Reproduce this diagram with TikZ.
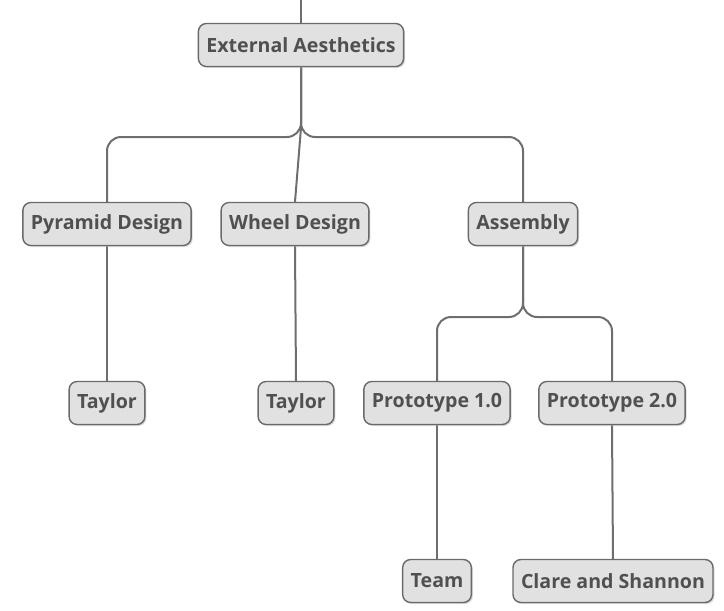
\documentclass[tikz,border=0pt]{standalone}
\usepackage{fontspec}
\setmainfont{Open Sans}
\usetikzlibrary{positioning,shadows,backgrounds}
\definecolor{boxfill}{HTML}{E1E1E1}
\definecolor{boxline}{HTML}{6A6A6A}
\definecolor{boxtext}{HTML}{505050}
\definecolor{linecol}{HTML}{6E6E6E}
\begin{document}
\begin{tikzpicture}[x=1pt,y=-1pt,
  topic/.style={draw=boxline,fill=boxfill,line width=1.4pt,rounded corners=8pt,
    minimum height=43pt,inner xsep=8pt,text=boxtext,
    font=\bfseries\fontsize{19.6}{22}\selectfont,
    drop shadow={shadow xshift=1.5pt,shadow yshift=-1.5pt,fill=black!30}},
  branch/.style={draw=linecol,line width=2pt,rounded corners=14pt}]
  \useasboundingbox (0,0) rectangle (724,611);
  \node[topic] (ea) at (301,45) {External Aesthetics};
  \node[topic] (pd) at (107,224) {Pyramid Design};
  \node[topic] (wd) at (295,224) {Wheel Design};
  \node[topic] (as) at (523,224) {Assembly};
  \node[topic] (ta) at (107,403) {Taylor};
  \node[topic] (tb) at (296,403) {Taylor};
  \node[topic] (pa) at (437,403) {Prototype 1.0};
  \node[topic] (pb) at (612,403) {Prototype 2.0};
  \node[topic] (tm) at (437,581) {Team};
  \node[topic] (cs) at (613,581) {Clare and Shannon};
  \coordinate (top) at (301,0) ;            %upper end of the stem
  \coordinate (eaj) at (301,137) ;          %split under External Aesthetics
  \coordinate (wdj) at (301,128) ;          %bend of the middle branch
  \coordinate (asj) at (523,317) ;          %split under Assembly
  \begin{scope}[on background layer]
  \draw[branch] (top) -- (ea.north) ;               %stem above the root
  \draw[branch] (ea.south) -- (eaj) -| (pd.north) ; %branch to Pyramid Design
  \draw[branch] (ea.south) -- (eaj) -| (as.north) ; %branch to Assembly
  \draw[branch,rounded corners=0pt] (ea.south) -- (wdj) -- (wd.north) ; %branch to Wheel Design
  \draw[branch] (pd.south) -- (ta.north) ;          %Pyramid Design to Taylor
  \draw[branch] (wd.south) -- (tb.north) ;          %Wheel Design to Taylor
  \draw[branch] (as.south) -- (asj) -| (pa.north) ; %Assembly to Prototype 1.0
  \draw[branch] (as.south) -- (asj) -| (pb.north) ; %Assembly to Prototype 2.0
  \draw[branch] (pa.south) -- (tm.north) ;          %Prototype 1.0 to Team
  \draw[branch] (pb.south) -- (cs.north) ;          %Prototype 2.0 to Clare and Shannon
  \end{scope}
\end{tikzpicture}
\end{document}
